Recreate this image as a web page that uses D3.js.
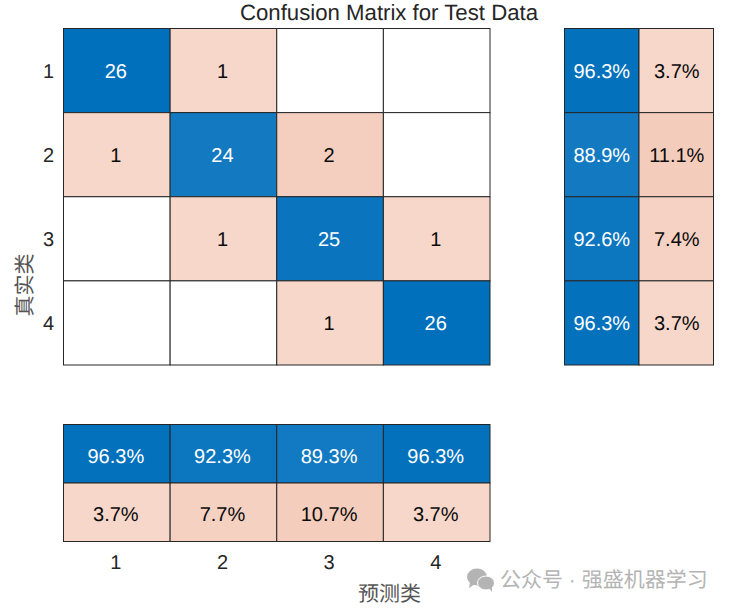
<!DOCTYPE html>
<html>
<head>
<meta charset="utf-8">
<script src="https://cdn.jsdelivr.net/npm/d3@7/dist/d3.min.js"></script>
<style>
  html, body { margin: 0; background: #fff; }
  text { font-family: "Liberation Sans", Arial, sans-serif; text-rendering: geometricPrecision; }
  .cjk { font-family: "Noto Sans CJK SC", sans-serif; }
  .mark { font-family: "Liberation Sans", "Noto Sans CJK SC", sans-serif; }
</style>
</head>
<body>
<div id="chart"></div>
<script>
var classes = ["1", "2", "3", "4"];
var counts = [
  [26, 1, 0, 0],
  [1, 24, 2, 0],
  [0, 1, 25, 1],
  [0, 0, 1, 26],
];
var rowCorrect = [96.3, 88.9, 92.6, 96.3];
var rowWrong = [3.7, 11.1, 7.4, 3.7];
var colCorrect = [96.3, 92.3, 89.3, 96.3];
var colWrong = [3.7, 7.7, 10.7, 3.7];
var summaryKeys = ["correct", "wrong"];
var titleText = "Confusion Matrix for Test Data";
var xLabel = "预测类";
var yLabel = "真实类";
var watermark = "公众号 · 强盛机器学习";

var width = 730;
var height = 609;
var svg = d3
  .select("#chart")
  .append("svg")
  .attr("width", width)
  .attr("height", height);

var x = d3.scaleBand().domain(classes).range([63.5, 490]);
var y = d3.scaleBand().domain(classes).range([28.5, 365]);
var xSummary = d3.scaleBand().domain(summaryKeys).range([564.5, 713.5]);
var ySummary = d3.scaleBand().domain(summaryKeys).range([424.5, 541.5]);

// counts on the diagonal are blue, the rest orange
var countBlue = d3.scaleLinear().domain([24, 26]).range(["#1379c0", "#0070bc"]);
var countRed = d3.scaleLinear().domain([1, 2]).range(["#f6d7ca", "#f4cfbf"]);
var pctBlue = d3.scaleLinear().domain([88.9, 96.3]).range(["#137ac2", "#0471bc"]);
var pctRed = d3.scaleLinear().domain([3.7, 11.1]).range(["#f6d7ca", "#f4ccbb"]);

var cell = (px, py, w, h, fill, label, textColor, dx, dy) => {
  svg
    .append("rect")
    .attr("x", px)
    .attr("y", py)
    .attr("width", w)
    .attr("height", h)
    .attr("fill", fill)
    .attr("stroke", "#262626")
    .attr("stroke-width", 1);
  if (label === "") return;
  svg
    .append("text")
    .attr("x", px + w / 2 + dx)
    .attr("y", py + h / 2 + dy)
    .attr("dy", "0.35em")
    .attr("text-anchor", "middle")
    .attr("font-size", 20)
    .attr("fill", textColor)
    .text(label);
};

classes.forEach((r, i) => {
  classes.forEach((c, j) => {
    var v = counts[i][j];
    var fill = v == 0 ? "#ffffff" : i == j ? countBlue(v) : countRed(v);
    cell(x(c), y(r), x.bandwidth(), y.bandwidth(), fill, v == 0 ? "" : v, i == j ? "#fff" : "#0a0a0a", -1, 0.5);
  });
  cell(xSummary("correct"), y(r), xSummary.bandwidth(), y.bandwidth(), pctBlue(rowCorrect[i]), rowCorrect[i].toFixed(1) + "%", "#fff", 0, 0.5);
  cell(xSummary("wrong"), y(r), xSummary.bandwidth(), y.bandwidth(), pctRed(rowWrong[i]), rowWrong[i].toFixed(1) + "%", "#0a0a0a", 0.5, 0.5);
  cell(x(r), ySummary("correct"), x.bandwidth(), ySummary.bandwidth(), pctBlue(colCorrect[i]), colCorrect[i].toFixed(1) + "%", "#fff", -1, 2);
  cell(x(r), ySummary("wrong"), x.bandwidth(), ySummary.bandwidth(), pctRed(colWrong[i]), colWrong[i].toFixed(1) + "%", "#0a0a0a", -1, 2);
});

var styleAxis = (g) => {
  g.select(".domain").remove();
  g.selectAll("text")
    .attr("font-size", 20)
    .attr("font-family", '"Liberation Sans", Arial, sans-serif')
    .attr("fill", "#262626");
};

svg
  .append("g")
  .attr("transform", "translate(63,1)")
  .call(d3.axisLeft(y).tickSize(0).tickPadding(9))
  .call(styleAxis);

svg
  .append("g")
  .attr("transform", "translate(-1,555)")
  .call(d3.axisBottom(x).tickSize(0).tickPadding(0))
  .call(styleAxis);

svg
  .append("text")
  .attr("x", 389)
  .attr("y", 20)
  .attr("text-anchor", "middle")
  .attr("font-size", 22.2)
  .attr("fill", "#262626")
  .text(titleText);

svg
  .append("text")
  .attr("class", "cjk")
  .attr("x", 389.5)
  .attr("y", 601)
  .attr("text-anchor", "middle")
  .attr("font-size", 21)
  .attr("fill", "#555")
  .text(xLabel);

svg
  .append("text")
  .attr("class", "cjk")
  .attr("transform", "translate(32,285) rotate(-90)")
  .attr("text-anchor", "middle")
  .attr("font-size", 21)
  .attr("fill", "#555")
  .text(yLabel);

// watermark: chat bubbles + account name
var mark = svg.append("g").attr("fill", "#b4b4b4");
mark.append("ellipse").attr("cx", 477).attr("cy", 577).attr("rx", 10).attr("ry", 8.5);
mark.append("path").attr("d", "M470 582 L469 588 L475 584 Z");
mark.append("ellipse").attr("cx", 486).attr("cy", 583).attr("rx", 8.5).attr("ry", 7).attr("stroke", "#fff").attr("stroke-width", 1);
mark.append("path").attr("d", "M489 588 L492 592 L492 586 Z");
svg
  .append("text")
  .attr("class", "mark")
  .attr("x", 500)
  .attr("y", 587)
  .attr("font-size", 21)
  .attr("fill", "#b4b4b4")
  .text(watermark);
</script>
</body>
</html>
